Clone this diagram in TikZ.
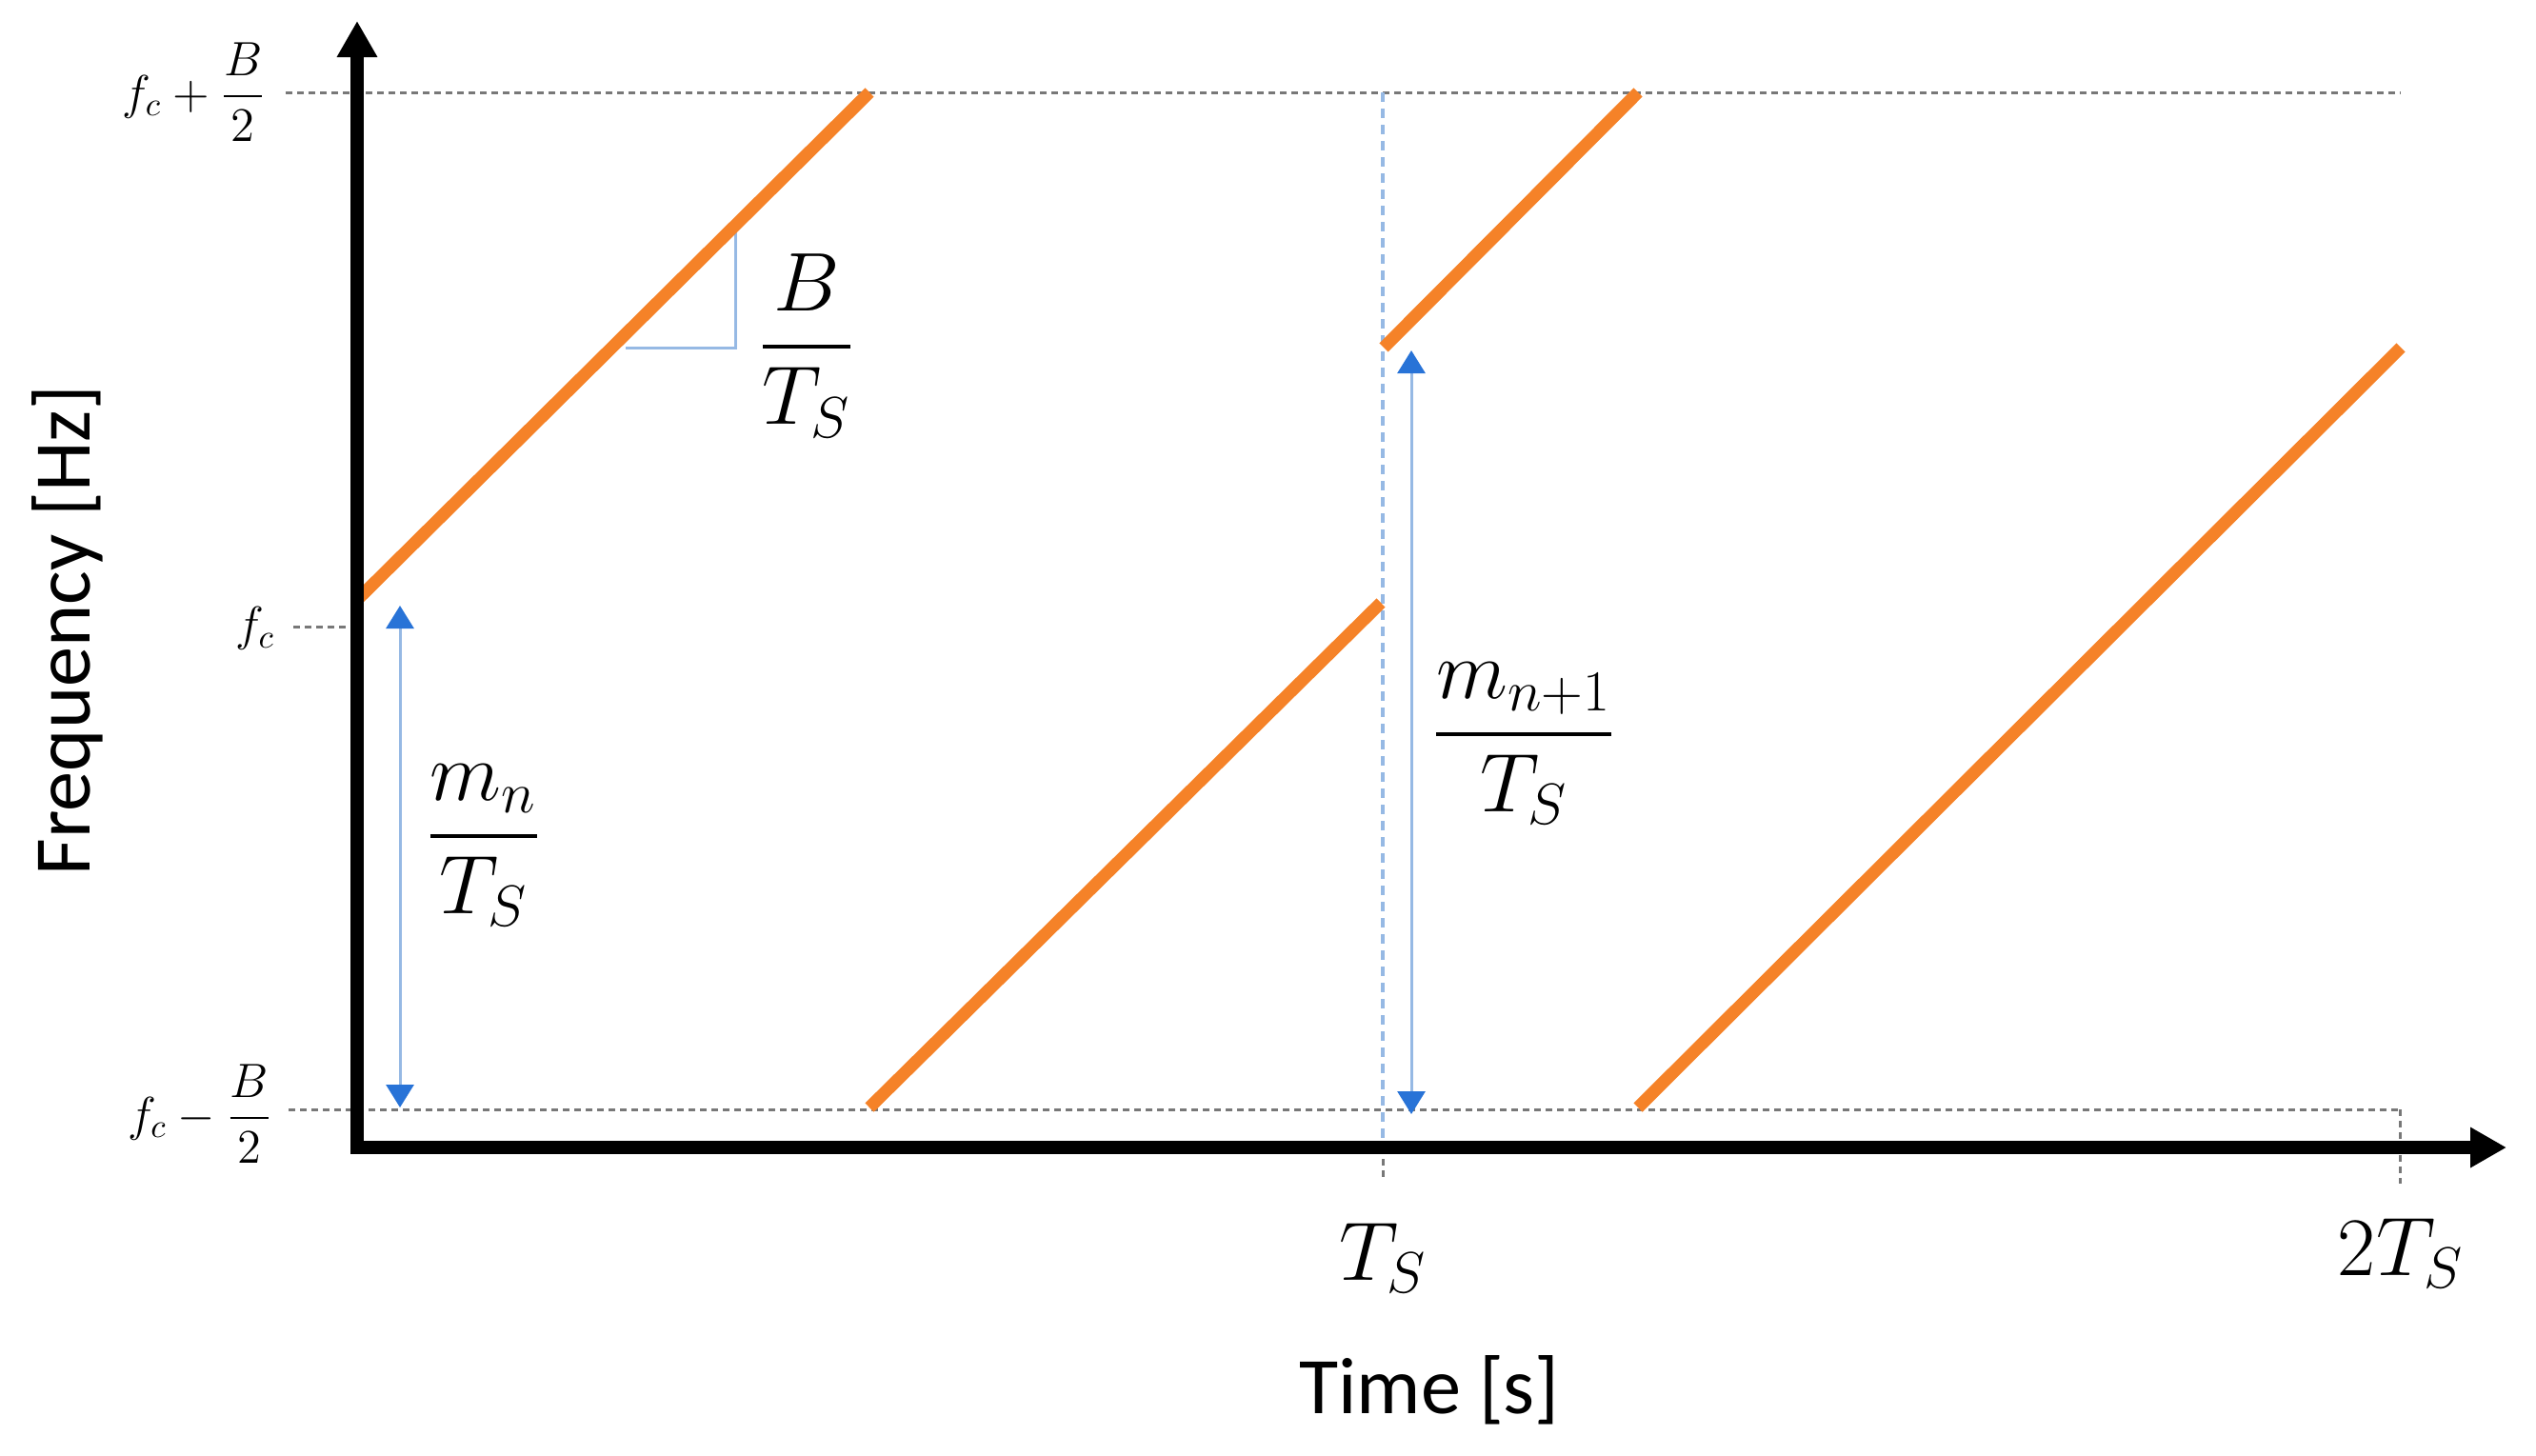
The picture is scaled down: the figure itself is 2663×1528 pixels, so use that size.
\documentclass[tikz,border=0pt]{standalone}
\usepackage{amsmath}
\usepackage{fontspec}
\setmainfont{Carlito}
\usetikzlibrary{arrows.meta}
\definecolor{chirp}{RGB}{245,130,40}
\definecolor{lblue}{RGB}{150,185,228}
\definecolor{dblue}{RGB}{40,115,215}
\definecolor{dotgray}{RGB}{120,120,120}
\tikzset{
  axisline/.style={line width=1.4mm, black, miter limit=10,
    {Triangle[length=3.8mm,width=4mm]}-{Triangle[length=3.8mm,width=4mm]}},
  chirpline/.style={line width=1.3mm, chirp},
  guide/.style={line width=0.3mm, dotgray, dash pattern=on 0.7mm off 0.5mm},
  tsguide/.style={line width=0.35mm, lblue, dash pattern=on 1mm off 0.7mm},
  span/.style={line width=0.3mm, lblue,
    {Triangle[length=2.4mm,width=2.9mm,color=dblue]}-{Triangle[length=2.4mm,width=2.9mm,color=dblue]}},
  slopeline/.style={line width=0.3mm, lblue},
  ticklab/.style={font=\fontsize{14}{17}\selectfont, inner sep=0pt},
  biglab/.style={font=\fontsize{24}{29}\selectfont, inner sep=0pt},
  axlab/.style={font=\fontsize{24}{29}\selectfont, inner sep=0pt}
}
\begin{document}
\begin{tikzpicture}[x=0.1mm,y=-0.1mm]
\useasboundingbox (0,0) rectangle (2663,1528);
% key coordinates
\coordinate (ytop) at (375,22);
\coordinate (O) at (375,1205);
\coordinate (xend) at (2632,1205);
\coordinate (topL) at (300,97);
\coordinate (topR) at (2520,97);
\coordinate (botL) at (303,1165);
\coordinate (botR) at (2520,1165);
\coordinate (fcL) at (308,658);
\coordinate (fcR) at (368,658);
\coordinate (tick2) at (2520,1243);
\coordinate (tsTop) at (1452,97);
\coordinate (tsAx) at (1452,1205);
\coordinate (tsLow) at (1452,1240);
% chirp end points
\coordinate (c1a) at (377,628);  \coordinate (c1b) at (913,97);
\coordinate (c2a) at (913,1163); \coordinate (c2b) at (1450,633);
\coordinate (c3a) at (1453,365); \coordinate (c3b) at (1720,97);
\coordinate (c4a) at (1720,1163);\coordinate (c4b) at (2521,365);
% slope triangle
\coordinate (s1) at (657,365); \coordinate (s2) at (772,365); \coordinate (s3) at (772,243);
% span arrows
\coordinate (a1b) at (420,1163); \coordinate (a1t) at (420,636);
\coordinate (a2b) at (1482,1170); \coordinate (a2t) at (1482,368);

% guides
\draw[guide] (topL) -- (topR);
\draw[guide] (botL) -- (botR);
\draw[guide] (fcL) -- (fcR);
\draw[guide] (botR) -- (tick2);
\draw[guide] (tsAx) -- (tsLow);
\draw[tsguide] (tsTop) -- (tsAx);

% slope triangle
\draw[slopeline] (s1) -- (s2) -- (s3);

% span arrows
\draw[span] (a1b) -- (a1t);
\draw[span] (a2b) -- (a2t);

% chirps
\draw[chirpline] (c1a) -- (c1b);
\draw[chirpline] (c2a) -- (c2b);
\draw[chirpline] (c3a) -- (c3b);
\draw[chirpline] (c4a) -- (c4b);

% axes
\draw[axisline] (ytop) -- (O) -- (xend);

% labels
\node[ticklab] (lfcp) at (204,97) {$f_c+\dfrac{B}{2}$};
\node[ticklab] (lfc) at (268,660) {$f_c$};
\node[ticklab] (lfcm) at (210,1170) {$f_c-\dfrac{B}{2}$};
\node[biglab] (lslope) at (847,363) {$\dfrac{B}{T_S}$};
\node[biglab] (lmn) at (508,888) {$\dfrac{m_n}{T_S}$};
\node[biglab] (lmn1) at (1600,781) {$\dfrac{m_{n+1}}{T_S}$};
\node[biglab] (lts) at (1452,1321) {$T_S$};
\node[biglab] (l2ts) at (2521,1316) {$2T_S$};
\node[axlab, rotate=90] (lfreq) at (71,662) {Frequency [Hz]};
\node[axlab] (ltime) at (1501,1460) {Time [s]};
\end{tikzpicture}
\end{document}
